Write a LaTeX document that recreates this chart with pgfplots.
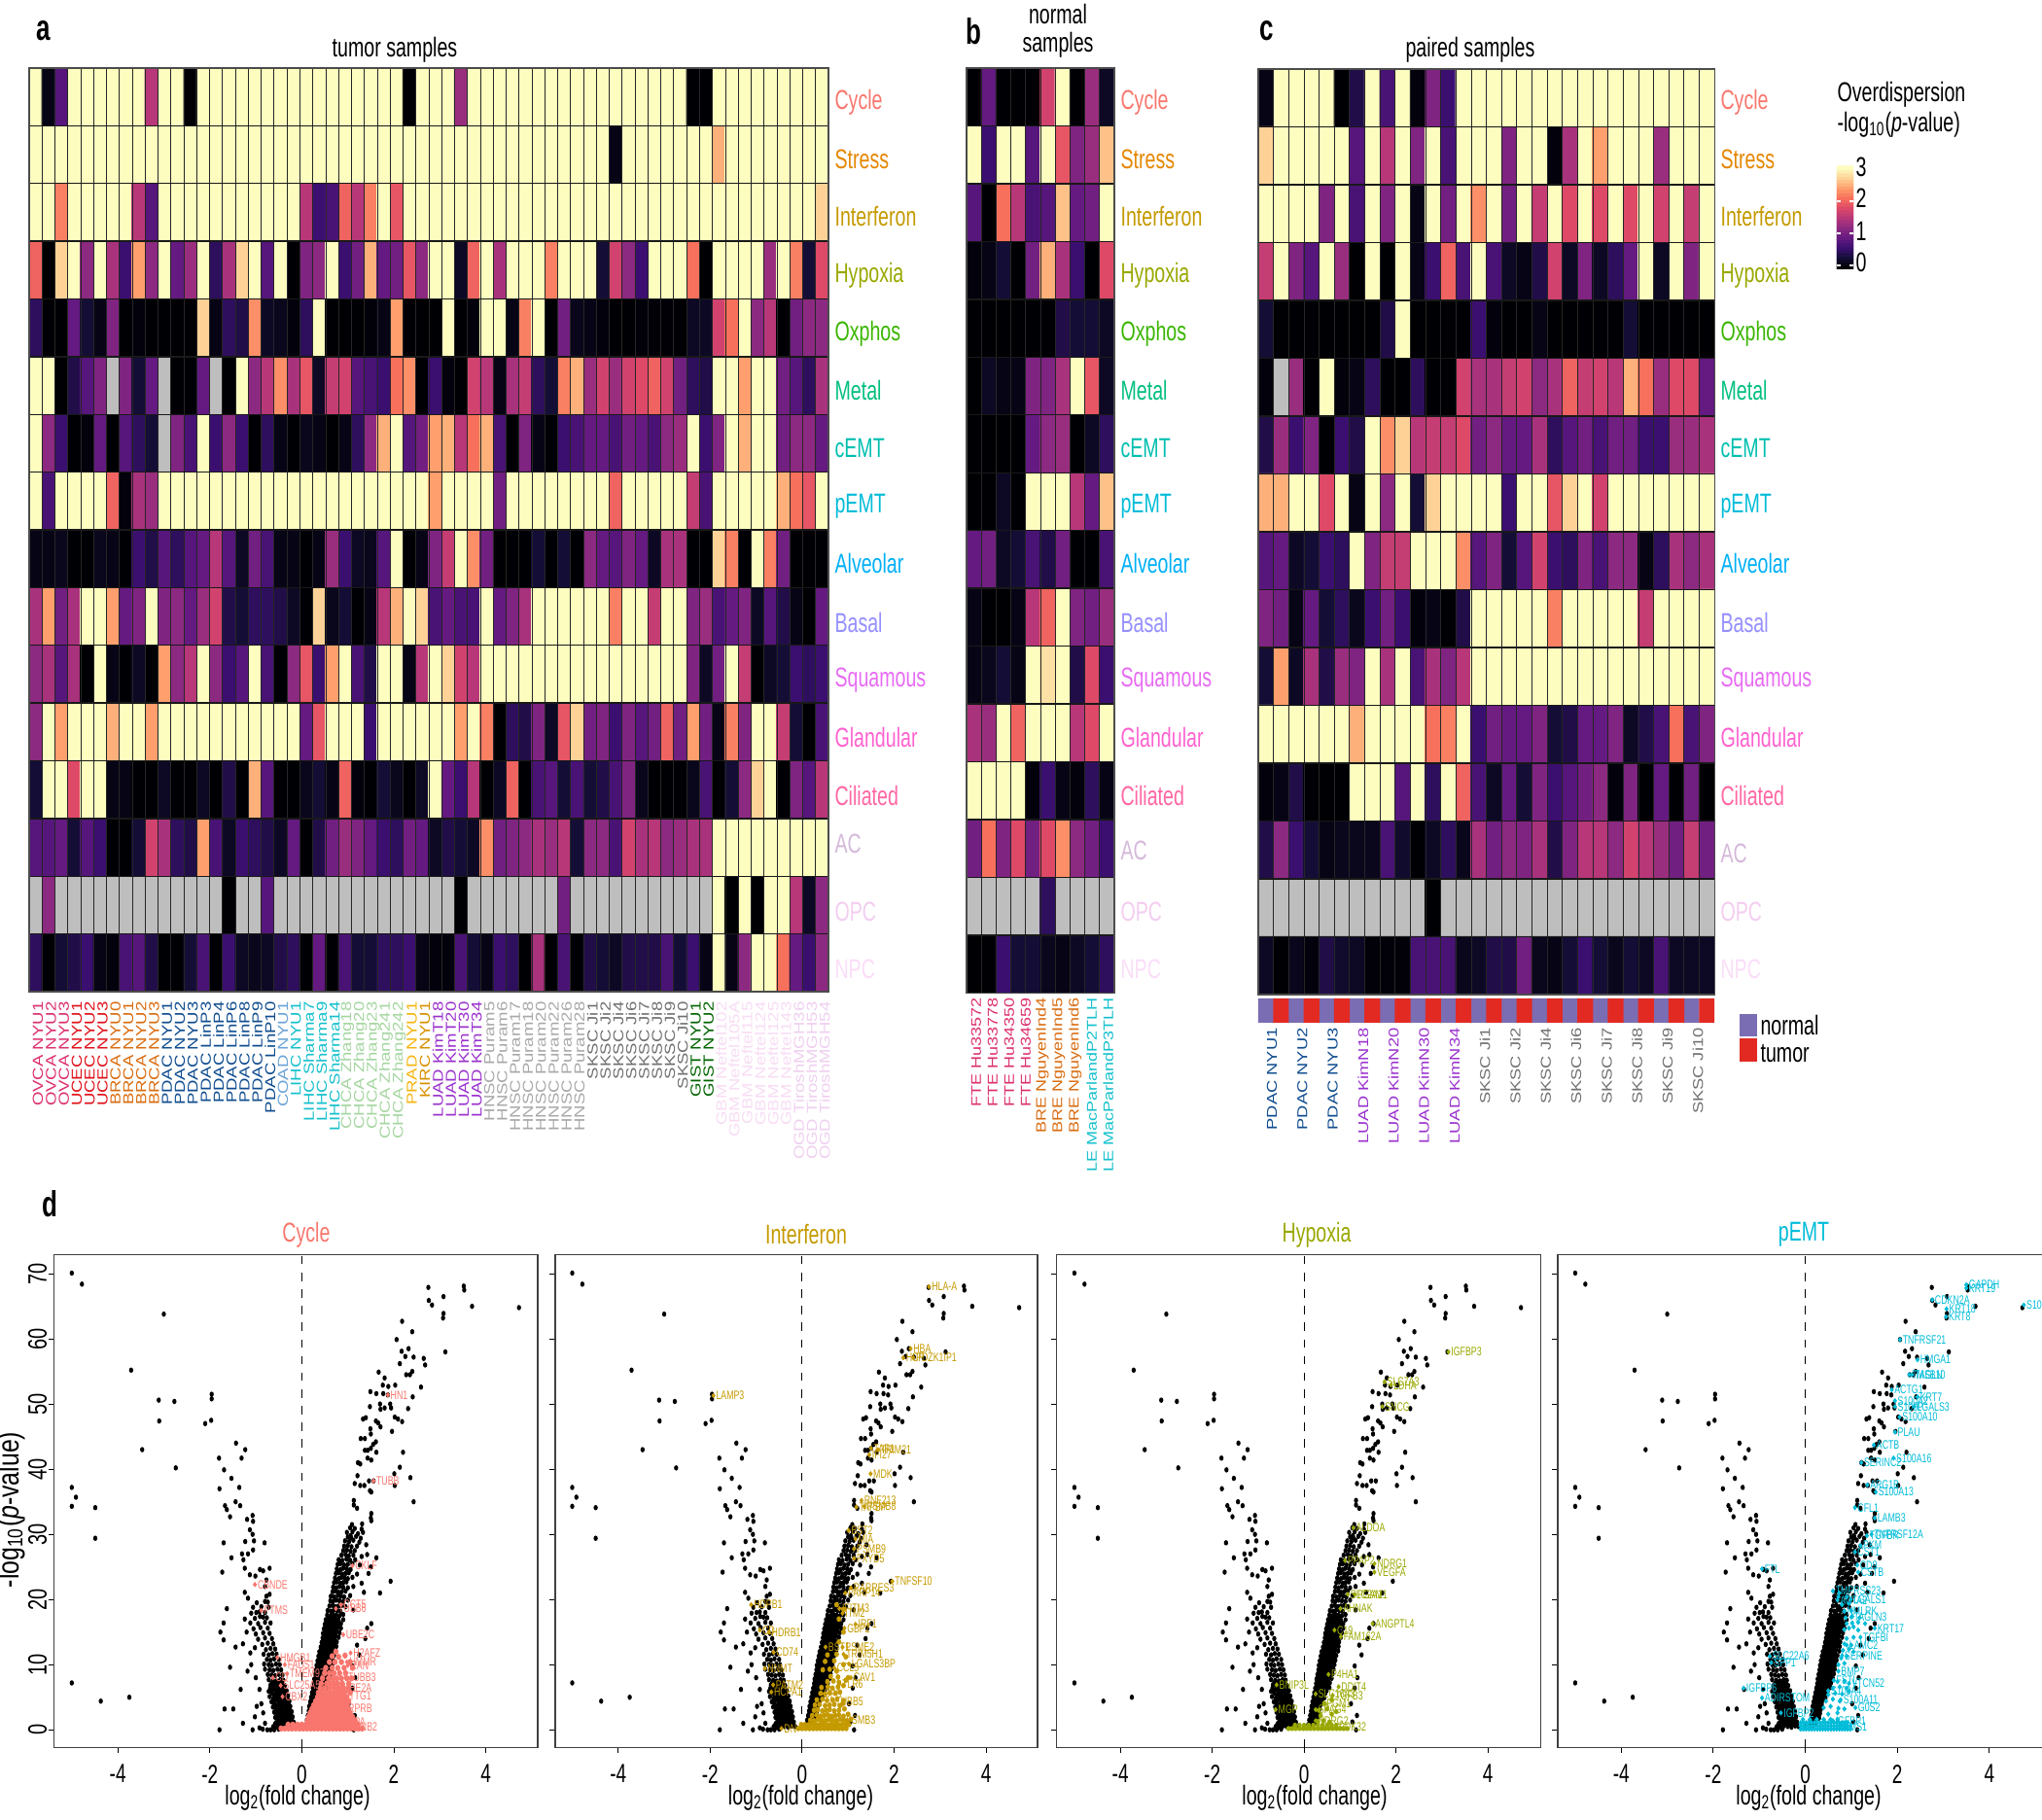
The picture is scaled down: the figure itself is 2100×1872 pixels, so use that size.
\documentclass[border=0pt]{standalone}
\usepackage{pgfplots}
\usepackage{pgfplotstable}
\usepackage{graphicx}
\usepackage{fontspec}
\pgfplotsset{compat=1.18}
\setmainfont{Liberation Sans}
\newcommand\fs[1]{\fontsize{#1}{#1}\selectfont}
\newcommand\hx[1]{\scalebox{.7}[1]{#1}}
\newcommand\vx[1]{\scalebox{1}[.8]{#1}}
\newcommand\vy[1]{\scalebox{1}[1.35]{#1}}
\definecolor{cCycle}{HTML}{F8766D}\definecolor{cStress}{HTML}{E58700}\definecolor{cInterferon}{HTML}{C49A00}
\definecolor{cHypoxia}{HTML}{99A800}\definecolor{cOxphos}{HTML}{39B600}\definecolor{cMetal}{HTML}{00BF7D}
\definecolor{ccEMT}{HTML}{00BFB0}\definecolor{cpEMT}{HTML}{00BCD8}\definecolor{cAlveolar}{HTML}{00B0F6}
\definecolor{cBasal}{HTML}{9590FF}\definecolor{cSquamous}{HTML}{E76BF3}\definecolor{cGlandular}{HTML}{FF62D0}
\definecolor{cCiliated}{HTML}{FF67A4}\definecolor{cAC}{HTML}{D4B9DA}\definecolor{cOPC}{HTML}{F3CDF0}\definecolor{cNPC}{HTML}{FBDDF8}
\definecolor{sOVCA}{HTML}{DB2F6E}\definecolor{sUCEC}{HTML}{E0101A}\definecolor{sBRCA}{HTML}{D96C10}\definecolor{sPDAC}{HTML}{0F4C8F}
\definecolor{sCOAD}{HTML}{6BA3D6}\definecolor{sLIHC}{HTML}{14C0CC}\definecolor{sCHCA}{HTML}{A5D6A0}\definecolor{sPRAD}{HTML}{F5B50F}
\definecolor{sKIRC}{HTML}{D89000}\definecolor{sLUAD}{HTML}{9A32CD}\definecolor{sHNSC}{HTML}{A8A8A8}\definecolor{sSKSC}{HTML}{707070}
\definecolor{sGIST}{HTML}{006400}\definecolor{sGBM}{HTML}{F8DCF4}\definecolor{sOGD}{HTML}{EFCFF0}
\definecolor{annN}{HTML}{7B6DB3}\definecolor{annT}{HTML}{E22A23}
\pgfplotsset{
  colormap={magNA}{
    rgb255(0pt)=(190,190,190) rgb255(49pt)=(190,190,190) rgb255(50pt)=(0,0,4)
    rgb255(80pt)=(20,14,54) rgb255(110pt)=(59,15,112) rgb255(140pt)=(100,26,128)
    rgb255(170pt)=(140,41,129) rgb255(200pt)=(183,55,121) rgb255(230pt)=(222,73,104)
    rgb255(260pt)=(247,112,92) rgb255(290pt)=(254,159,109) rgb255(320pt)=(254,210,150)
    rgb255(350pt)=(252,253,191)},
  hm/.style={scale only axis, xmin=-.5, ymin=-.5, ymax=15.5, y dir=reverse, anchor=north west,
    ytick={.5,1.5,...,14.5}, xticklabels={}, yticklabels={}, major tick length=0pt, axis on top,
    xmajorgrids, ymajorgrids, x grid style={black!85,line width=.28pt}, y grid style={black!90,line width=.5pt},
    point meta min=-.5, point meta max=3, axis line style={draw=black!70,line width=.4pt}, colormap name=magNA},
  vol/.style={scale only axis, anchor=north west, height=177.4pt, ymin=-2.73, ymax=72.9,
    xtick={-4,-2,0,2,4}, xticklabels={\hx{-4},\hx{-2},\hx{0},\hx{2},\hx{4}},
    xticklabel style={font=\fs{9.5},yshift=-.6pt}, ytick={0,10,...,70}, yticklabels={},
    tick align=outside, tick pos=left, major tick length=2pt, axis line style={draw=black!75,line width=.5pt},
    tick style={draw=black,line width=.35pt}},
  blk/.style={only marks, mark=*, mark size=.55pt, black, mark options={yscale=1.35,draw=none,fill=black}},
  gene/.style={only marks, mark=*, mark size=.5pt, color=#1, mark options={yscale=1.3,draw=none,fill=#1},
    point meta=explicit symbolic, nodes near coords={\hx{\pgfplotspointmeta}}, nodes near coords align={anchor=west},
    every node near coord/.append style={font=\fs{4.4}, text=#1, inner sep=.8pt}},
}
\pgfplotstableread[row sep=\\]{
x y\\
-5 70.1\\-4.78 68.4\\-3 63.8\\-3.71 55.2\\-3.11 50.6\\-2.77 50.4\\-1.96 51.5\\-1.96 50.8\\-3.1 47.4\\-1.97 47.5\\-2.1 47\\-3.47 43\\-1.43 44\\-1.23 43\\-1.8 41.7\\-1.31 41.7\\-2.74 40.2\\-1.69 39.9\\-1.53 38.6\\-5 37.2\\-1.79 37\\-1.36 37.2\\-4.91 35.7\\-5 34.3\\-4.49 34.1\\-4.49 29.4\\-5 7.2\\-3.75 5\\-4.37 4.4\\-1.68 3.2\\-1.49 3.2\\-1.79 0\\-1.28 1\\-1.07 0\\
-1.44 35\\-1.34 34.4\\-1.67 34.4\\-1.63 33.8\\-1.56 32.7\\-1.07 32.9\\-1.06 32\\-1.19 32.3\\-1.13 30.7\\-1.07 30\\-1.7 28.7\\-.81 28.7\\-1.23 28.9\\-1.04 29\\-1.3 27\\-1.53 26.4\\-1.17 27\\-1.27 26.1\\-1.06 27.6\\-.91 24.6\\-.7 24.8\\-1.73 24.2\\-1.24 24.8\\-1.13 23.8\\-1.01 23.6\\-.84 24.4\\-.77 23\\-.8 22\\-.7 20.8\\-.77 20.5\\-1.24 21.1\\-1.17 20.2\\-1.63 18.6\\-1.06 18.8\\-.99 18\\-1.7 16.4\\-1.77 15\\-1.7 13.8\\-1.44 12.7\\-1.56 9.6\\-1.33 6.2\\-1.24 17\\-.91 17.4\\-1.2 15\\-1.28 13.2\\-1.12 11.8\\-1.02 12.6\\-1.18 9\\-1.1 10\\-1 8\\-.92 6.2\\-.98 3.6\\-.88 4\\-.84 2.6\\-1.02 2\\-.92 .3\\-.8 1\\
2.75 67.9\\3.52 68.1\\3.53 67.5\\3.08 66.5\\2.76 65.9\\2.83 65.2\\3.7 65\\4.72 64.8\\3.08 63.9\\3.07 63.2\\2.18 62.7\\2.4 61.1\\2.06 59.9\\3.12 58\\2.32 58.5\\2.17 58.1\\2.25 57.3\\2.43 57.2\\2.65 57\\2.13 56.2\\2.68 56\\2.4 55\\2.27 54.5\\2.35 54.5\\1.67 54.9\\1.8 54\\2.59 52.6\\1.76 52.9\\1.88 52.7\\2.03 52.9\\2.41 51.1\\1.49 51.9\\1.62 51.6\\1.77 51.6\\1.87 51.4\\2.31 49.3\\1.48 49.6\\1.7 50\\1.71 49.2\\1.8 49.4\\1.92 50\\1.94 49.4\\1.33 47.7\\1.39 47.9\\1.61 47.4\\1.66 47.1\\2.02 48\\2.09 47.7\\2.18 47.3\\1.96 45.8\\1.49 46.2\\1.5 45.4\\1.71 46.5\\1.28 44.7\\1.37 44.7\\1.61 44.2\\1.5 43.2\\1.62 42.6\\1.55 43.8\\2.2 42.6\\1.43 42.9\\1.22 41\\1.27 40.8\\1.43 41.7\\1.51 41.4\\1.37 42.9\\2.01 39.3\\2.13 40.3\\2.36 38.7\\1.21 39\\1.46 38.2\\1.56 38.2\\1.15 37.8\\1.27 37.5\\1.36 37.5\\2.02 37.5\\1.48 36.7\\1.51 36.5\\2.43 35\\1.13 35.2\\1.13 34.5\\1.2 34\\1.51 33.2\\1.5 32.5\\1.51 32.1\\1.09 31.5\\1.31 31.6\\1.06 29.8\\1.93 22.8\\1.7 21\\1.45 24\\1.5 25\\1.62 26.4\\1.42 26.9\\1.51 16.3\\1.38 14\\1.42 15.6\\1.2 13\\1.25 11.5\\1.1 9.8\\1.16 8\\1.1 6.4\\1.02 4\\1.15 2.2\\1.13 0\\1.05 1.2\\
1.05 31\\1.15 30.9\\1.3 30.8\\.98 30.3\\1.1 30.4\\1.22 30.1\\1.33 30.3\\1 29.6\\1.07 29.5\\1.18 29.7\\1.28 29.4\\.94 29\\1.03 28.9\\1.12 29.1\\1.25 28.8\\.92 28.2\\1 28.3\\1.08 28.1\\1.2 28.2\\1.4 28.4\\.9 27.5\\.98 27.6\\1.06 27.4\\1.15 27.5\\.86 26.8\\.95 26.9\\1.02 26.7\\1.12 26.8\\1.3 26.6\\.8 26.1\\.88 26\\.97 26.2\\1.05 26\\1.16 26.1\\.78 25.4\\.84 25.5\\.92 25.3\\1 25.4\\1.1 25.5\\1.26 25.3\\.76 24.7\\.84 24.6\\.9 24.8\\.98 24.7\\1.06 24.6\\.74 24\\.8 24.1\\.88 23.9\\.95 24\\1.02 24.1\\1.2 23.9\\.72 23.3\\.8 23.2\\.86 23.4\\.93 23.3\\1 23.2\\1.1 23.4\\.7 22.6\\.76 22.7\\.84 22.5\\.9 22.6\\.97 22.7\\1.3 22.5\\.68 21.9\\.75 21.8\\.82 22\\.9 21.9\\1 21.8\\1.12 22\\.67 21.2\\.74 21.3\\.8 21.1\\.87 21.2\\.95 21.3\\1.35 21.1\\.63 20.5\\.7 20.4\\.78 20.6\\.85 20.5\\.92 20.4\\1.05 20.6\\.62 19.8\\.68 19.7\\.75 19.9\\.82 19.8\\.9 19.7\\1 19.9\\.6 19\\.67 19.1\\.74 18.9\\.8 19\\.87 19.1\\.95 18.9\\.56 18.3\\.63 18.2\\.7 18.4\\.77 18.3\\.84 18.2\\1.12 18.4\\.55 17.6\\.62 17.5\\.68 17.7\\.75 17.6\\.82 17.5\\.9 17.7\\.52 16.9\\.6 16.8\\.66 17\\.72 16.9\\.8 16.8\\.9 16.9\\.5 16.2\\.57 16.1\\.64 16.3\\.7 16.2\\.78 16.1\\.85 16.3\\.48 15.5\\.55 15.4\\.62 15.6\\.68 15.5\\.75 15.4\\.85 15.6\\.46 14.8\\.53 14.7\\.6 14.9\\.66 14.8\\.72 14.7\\.82 14.9\\.45 14.1\\.52 14\\.58 14.2\\.64 14.1\\.7 14\\.8 14.2\\.43 13.4\\.5 13.3\\.56 13.5\\.62 13.4\\.68 13.3\\.76 13.5\\.41 12.7\\.48 12.6\\.54 12.8\\.6 12.7\\.66 12.6\\.75 12.8\\.38 12\\.45 11.9\\.52 12.1\\.58 12\\.64 11.9\\.74 12.1\\.36 11.3\\.43 11.2\\.5 11.4\\.56 11.3\\.62 11.2\\.7 11.4\\.34 10.6\\.41 10.5\\.48 10.7\\.54 10.6\\.6 10.5\\.68 10.7\\.32 9.9\\.39 9.8\\.46 10\\.52 9.9\\.58 9.8\\.66 10\\.31 9.2\\.37 9.1\\.44 9.3\\.5 9.2\\.56 9.1\\.64 9.3\\.29 8.5\\.35 8.4\\.42 8.6\\.48 8.5\\.54 8.4\\.62 8.6\\.27 7.8\\.33 7.7\\.4 7.9\\.46 7.8\\.52 7.7\\.6 7.9\\.26 7.1\\.32 7\\.38 7.2\\.44 7.1\\.5 7\\.56 7.2\\.24 6.4\\.3 6.3\\.36 6.5\\.42 6.4\\.48 6.3\\.55 6.5\\.22 5.7\\.28 5.6\\.34 5.8\\.4 5.7\\.46 5.6\\.2 5\\.26 4.9\\.32 5.1\\.38 5\\.44 4.9\\.18 4.3\\.24 4.2\\.3 4.4\\.36 4.3\\.16 3.6\\.22 3.5\\.28 3.7\\.34 3.6\\.15 2.9\\.2 2.8\\.26 3\\.32 2.9\\.13 2.2\\.18 2.1\\.24 2.3\\.3 2.2\\.11 1.5\\.16 1.4\\.22 1.6\\.09 .8\\.14 .7\\
.58 17.2\\.65 17.2\\.71 17.2\\.78 17.2\\.54 16.5\\.61 16.5\\.68 16.5\\.75 16.5\\.51 15.8\\.58 15.8\\.65 15.8\\.72 15.8\\.79 15.8\\.5 15.1\\.56 15.1\\.63 15.1\\.7 15.1\\.77 15.1\\.48 14.4\\.55 14.4\\.61 14.4\\.67 14.4\\.74 14.4\\.47 13.7\\.53 13.7\\.59 13.7\\.65 13.7\\.72 13.7\\.45 13\\.51 13\\.57 13\\.63 13\\.7 13\\.42 12.3\\.49 12.3\\.55 12.3\\.61 12.3\\.68 12.3\\.4 11.6\\.47 11.6\\.53 11.6\\.59 11.6\\.66 11.6\\.38 10.9\\.44 10.9\\.51 10.9\\.57 10.9\\.64 10.9\\.36 10.2\\.42 10.2\\.49 10.2\\.55 10.2\\.62 10.2\\.34 9.5\\.4 9.5\\.47 9.5\\.53 9.5\\.6 9.5\\.32 8.8\\.38 8.8\\.45 8.8\\.51 8.8\\.58 8.8\\.3 8.1\\.36 8.1\\.43 8.1\\.49 8.1\\.56 8.1\\.29 7.4\\.35 7.4\\.41 7.4\\.47 7.4\\.53 7.4\\.27 6.7\\.33 6.7\\.39 6.7\\.45 6.7\\.51 6.7\\.25 6\\.31 6\\.37 6\\.43 6\\.49 6\\.23 5.3\\.29 5.3\\.35 5.3\\.41 5.3\\.21 4.6\\.27 4.6\\.33 4.6\\.39 4.6\\.19 3.9\\.25 3.9\\.31 3.9\\.36 3.9\\.18 3.2\\.23 3.2\\.29 3.2\\.34 3.2\\.16 2.5\\.21 2.5\\.27 2.5\\.32 2.5\\.14 1.8\\.19 1.8\\.25 1.8\\.3 1.8\\.12 1.1\\.18 1.1\\.24 1.1\\
-.15 .5\\-.22 .6\\-.3 .4\\-.38 .5\\-.46 .6\\-.55 .4\\-.62 .5\\-.18 1.2\\-.25 1.3\\-.32 1.1\\-.4 1.2\\-.48 1.3\\-.56 1.1\\-.2 2\\-.27 2.1\\-.34 1.9\\-.42 2\\-.5 2.1\\-.58 1.9\\-.22 2.8\\-.3 2.9\\-.37 2.7\\-.44 2.8\\-.52 2.9\\-.6 2.7\\-.25 3.6\\-.32 3.7\\-.4 3.5\\-.47 3.6\\-.55 3.7\\-.63 3.5\\-.27 4.4\\-.34 4.5\\-.42 4.3\\-.5 4.4\\-.58 4.5\\-.66 4.3\\-.3 5.2\\-.38 5.3\\-.45 5.1\\-.53 5.2\\-.6 5.3\\-.7 5.1\\-.33 6\\-.4 6.1\\-.48 5.9\\-.56 6\\-.64 6.1\\-.72 5.9\\-.37 6.8\\-.44 6.9\\-.52 6.7\\-.6 6.8\\-.68 6.9\\-.4 7.6\\-.47 7.7\\-.55 7.5\\-.63 7.6\\-.72 7.7\\-.42 8.4\\-.5 8.5\\-.58 8.3\\-.66 8.4\\-.74 8.5\\-.45 9.2\\-.53 9.3\\-.62 9.1\\-.7 9.2\\-.8 9.3\\-.48 10\\-.56 10.1\\-.65 9.9\\-.72 10\\-.82 10.1\\-.5 10.8\\-.6 10.9\\-.68 10.7\\-.76 10.8\\-.55 11.6\\-.64 11.7\\-.72 11.5\\-.83 11.6\\-.58 12.4\\-.68 12.5\\-.78 12.3\\-.62 13.2\\-.74 13.3\\-.86 13.1\\-.65 14\\-.8 14.1\\-.95 13.9\\-.7 14.8\\-.84 14.9\\-1 14.7\\-.74 15.6\\-.9 15.7\\-1.05 15.5\\-.68 16.4\\-.8 16.5\\-.95 16.3\\-1.12 16.4\\-.76 17.2\\-.84 17.3\\-1.02 17.1\\-.8 18\\-.92 18.1\\-1.1 17.9\\-.72 18.8\\-.88 18.9\\-.74 19.6\\-.8 19.7\\-.98 19.5\\
-.42 7.2\\-.49 7.2\\-.57 7.2\\-.65 7.2\\-.39 6.4\\-.46 6.4\\-.53 6.4\\-.61 6.4\\-.69 6.4\\-.36 5.6\\-.42 5.6\\-.5 5.6\\-.57 5.6\\-.65 5.6\\-.32 4.8\\-.39 4.8\\-.46 4.8\\-.54 4.8\\-.62 4.8\\-.29 4\\-.36 4\\-.44 4\\-.51 4\\-.6 4\\-.27 3.2\\-.34 3.2\\-.42 3.2\\-.49 3.2\\-.57 3.2\\-.24 2.4\\-.31 2.4\\-.38 2.4\\-.46 2.4\\-.54 2.4\\-.22 1.6\\-.29 1.6\\-.36 1.6\\-.44 1.6\\-.52 1.6\\-.19 .9\\-.27 .9\\-.34 .9\\-.43 .9\\-.5 .9\\-.58 .9\\
-.6 0\\-.68 0\\-.75 0\\-.5 .1\\-.85 .1\\
}\volctab
\begin{document}
\begin{tikzpicture}[x=.35pt,y=-.35pt]
% ---------- panel a
\begin{axis}[hm, at={(10.5pt,-24.5pt)}, width=287.7pt, height=332.5pt, xmax=61.5, xtick={.5,1.5,...,60.5}]
\addplot[matrix plot*, mesh/cols=62, point meta=explicit] table[row sep=\\, header=false, x expr={mod(\coordindex,62)}, y expr={floor((\coordindex+.5)/62)}, meta index=0] {
3\\.1\\.8\\3\\3\\3\\3\\3\\3\\1.5\\3\\3\\0\\3\\3\\3\\3\\3\\3\\3\\3\\3\\3\\3\\3\\3\\3\\3\\3\\0\\3\\3\\3\\1.3\\3\\3\\3\\3\\3\\3\\3\\3\\3\\3\\3\\3\\3\\3\\3\\3\\3\\0\\0\\3\\3\\3\\3\\3\\3\\3\\3\\3\\
3\\3\\3\\3\\3\\3\\3\\3\\3\\3\\3\\3\\3\\3\\3\\3\\3\\3\\3\\3\\3\\3\\3\\3\\3\\3\\3\\3\\3\\3\\3\\3\\3\\3\\3\\3\\3\\3\\3\\3\\3\\3\\3\\3\\3\\.1\\3\\3\\3\\3\\3\\3\\3\\2.5\\3\\3\\3\\3\\3\\3\\3\\3\\
3\\3\\2.2\\3\\3\\3\\3\\3\\1.5\\.8\\3\\3\\3\\3\\3\\3\\3\\3\\3\\3\\3\\1.5\\.6\\.7\\2\\1.5\\2.2\\3\\1.9\\3\\3\\3\\3\\3\\3\\3\\3\\3\\3\\3\\3\\3\\3\\3\\3\\3\\3\\3\\3\\3\\3\\3\\3\\3\\3\\3\\3\\3\\3\\3\\3\\2.7\\
2\\0\\2.7\\3\\1.2\\3\\1.4\\.6\\2.4\\1.2\\3\\.9\\1.3\\3\\.5\\1.4\\2.7\\3\\.8\\3\\0\\1.1\\1.2\\3\\.6\\1\\2.5\\.9\\1\\1.9\\1.2\\3\\3\\.2\\2\\3\\1.4\\3\\3\\3\\2.2\\3\\3\\3\\.3\\1.7\\1.2\\.6\\3\\3\\3\\2.1\\0\\3\\3\\3\\3\\1.3\\3\\2.2\\.3\\1.8\\
.5\\0\\0\\.9\\.3\\.1\\1.1\\0\\.05\\0\\0\\0\\0\\2.7\\.1\\.5\\.4\\2.3\\.2\\.15\\.05\\.5\\3\\0\\0\\0\\.03\\.1\\2.4\\0\\0\\0\\3\\0\\.05\\3\\3\\.1\\2.2\\3\\0\\1\\.15\\.1\\.05\\0\\0\\.03\\.02\\.01\\0\\.2\\.2\\1.7\\2.1\\3\\1.2\\1.5\\0\\1\\1.2\\1.2\\
3\\3\\0\\.4\\.8\\1.1\\-.5\\1.1\\.3\\.9\\-.5\\0\\0\\.9\\-.5\\0\\3\\1.2\\1.5\\2.3\\1.4\\1.9\\.2\\1.6\\1.7\\.8\\.7\\.6\\2.1\\2.3\\0\\.6\\.05\\0\\1.7\\1.5\\.1\\1.4\\1.6\\.5\\.3\\2.2\\2.5\\1.3\\1.7\\1.3\\1.7\\1.8\\2\\1.7\\1\\.5\\.4\\3\\3\\2.4\\3\\3\\1\\.8\\.5\\1.4\\
3\\1.2\\.6\\0\\.05\\.9\\0\\.8\\.5\\.3\\-.5\\1.1\\.7\\3\\.6\\1.2\\.6\\0\\.5\\.1\\0\\.15\\.1\\0\\.1\\.5\\1.2\\2.5\\3\\.8\\1\\2.4\\2.5\\1.5\\2.1\\2.5\\.7\\0\\1.1\\.1\\0\\.6\\.7\\.9\\.9\\.7\\1\\.9\\.7\\1.2\\1.3\\3\\.6\\1.1\\3\\2.5\\3\\3\\1\\1.2\\1.2\\.9\\
3\\.7\\3\\3\\3\\3\\2\\.05\\1.4\\1.3\\3\\3\\3\\3\\3\\3\\3\\3\\3\\3\\3\\3\\3\\3\\3\\3\\3\\3\\3\\3\\3\\2.4\\3\\3\\3\\3\\1\\3\\3\\3\\3\\3\\3\\3\\3\\2\\3\\3\\3\\3\\3\\1.6\\.7\\3\\3\\3\\3\\3\\2.5\\2.1\\1.9\\3\\
.1\\.1\\.15\\0\\0\\.15\\.1\\0\\.6\\.4\\.8\\.5\\.8\\.9\\1.5\\.8\\.2\\1\\.7\\.1\\.1\\0\\.1\\1.3\\.6\\.2\\.15\\.8\\3\\0\\.1\\1.1\\1.6\\3\\2.3\\1\\0\\0\\0\\.3\\0\\.3\\0\\1.2\\.9\\.8\\1.1\\.9\\.2\\1.4\\1.4\\0\\0\\2.7\\2.2\\0\\3\\2.2\\1\\0\\0\\0\\
1.4\\2.4\\1\\1.4\\3\\3\\2.4\\.9\\1.1\\3\\1.1\\1.2\\.9\\1.3\\1.7\\.4\\.3\\.5\\.5\\.4\\.2\\0\\2.7\\.15\\.3\\0\\.1\\1.5\\2.5\\3\\2.7\\.7\\.9\\.7\\.7\\3\\.9\\1.1\\1.4\\3\\3\\3\\3\\3\\3\\2.2\\3\\3\\1.6\\3\\3\\1.1\\1.3\\.7\\.9\\1.1\\.2\\.8\\.4\\.1\\0\\.9\\
1.2\\1.4\\.8\\1.4\\0\\3\\.1\\0\\.2\\0\\2.4\\1.2\\1.5\\3\\1.2\\.6\\.8\\3\\.7\\0\\1.2\\1.9\\.6\\2.4\\3\\.7\\.4\\3\\3\\.1\\1.5\\3\\2.7\\1.7\\1.5\\3\\3\\3\\3\\3\\3\\3\\3\\3\\3\\3\\3\\3\\3\\3\\3\\1.1\\.2\\1\\3\\1.6\\0\\.2\\.3\\.6\\.5\\.6\\
1.2\\3\\2.4\\3\\3\\3\\2.5\\3\\3\\2.4\\3\\3\\3\\3\\3\\3\\3\\3\\3\\3\\3\\.9\\1.9\\3\\3\\3\\.6\\3\\3\\3\\3\\3\\3\\2.4\\3\\2.2\\0\\.5\\.4\\1.1\\.2\\1.9\\2.7\\1\\1.1\\.6\\1.1\\.8\\1\\2\\1\\2.4\\1\\.1\\2.2\\1.1\\3\\3\\1.6\\.3\\0\\.7\\
.3\\3\\3\\1.8\\3\\3\\.1\\.1\\0\\0\\.2\\0\\0\\.2\\0\\.4\\0\\2.5\\.8\\0\\0\\.15\\.3\\.1\\2\\.05\\0\\.3\\.15\\0\\.2\\3\\.9\\.6\\1.5\\0\\.2\\2\\0\\.7\\.8\\.3\\.7\\.3\\.4\\.7\\1.1\\.15\\0\\0\\0\\.15\\.7\\0\\.3\\1.2\\2.7\\3\\0\\1.1\\.8\\1.5\\
.8\\.8\\.9\\.3\\.8\\.6\\0\\0\\.3\\1.7\\1.4\\.5\\.4\\2.4\\.7\\.2\\.6\\.5\\.4\\.2\\.9\\0\\.4\\1\\1.3\\1.1\\.9\\.6\\.5\\1\\.9\\.2\\.4\\.3\\.2\\2.3\\1\\1.1\\1.2\\1.4\\1.3\\1.5\\.3\\1.2\\1.2\\.7\\1.7\\1.4\\1.5\\1.2\\1.3\\1.4\\1.4\\3\\3\\3\\3\\3\\3\\3\\3\\3\\
-.5\\1.2\\-.5\\-.5\\-.5\\-.5\\-.5\\-.5\\-.5\\-.5\\-.5\\-.5\\-.5\\-.5\\-.5\\0\\-.5\\-.5\\.8\\-.5\\-.5\\-.5\\-.5\\-.5\\-.5\\-.5\\-.5\\-.5\\-.5\\-.5\\-.5\\-.5\\-.5\\0\\-.5\\-.5\\-.5\\-.5\\-.5\\-.5\\-.5\\1\\-.5\\-.5\\-.5\\-.5\\-.5\\-.5\\-.5\\-.5\\-.5\\-.5\\-.5\\3\\0\\3\\0\\3\\3\\1.5\\.2\\1.2\\
.5\\0\\.3\\.4\\.6\\.1\\.05\\.7\\.8\\.4\\0\\0\\.3\\.7\\0\\.6\\.2\\.15\\.2\\.4\\.5\\0\\.9\\0\\.7\\.3\\.3\\.5\\.5\\.6\\.1\\.05\\.05\\.7\\.3\\.1\\.6\\.5\\0\\1.4\\0\\.7\\0\\.4\\.3\\.2\\.4\\.4\\.4\\.7\\.3\\.6\\.1\\3\\.1\\1.2\\3\\3\\2.1\\.9\\.6\\1.2\\
};
\end{axis}
% ---------- panel b
\begin{axis}[hm, at={(347.9pt,-24.5pt)}, width=53.2pt, height=333pt, xmax=9.5, xtick={.5,1.5,...,8.5}]
\addplot[matrix plot*, mesh/cols=10, point meta=explicit] table[row sep=\\, header=false, x expr={mod(\coordindex,10)}, y expr={floor((\coordindex+.5)/10)}, meta index=0] {
0\\.9\\0\\0\\0\\1.7\\3\\0\\1.3\\.2\\
3\\.6\\3\\3\\.8\\3\\1.9\\1.1\\1.3\\2.6\\
.8\\0\\2.1\\1.5\\.7\\.8\\2.6\\.9\\1\\3\\
.05\\.1\\.3\\0\\1\\2.5\\1.4\\.6\\0\\1.8\\
0\\0\\0\\0\\0\\0\\.4\\.3\\.3\\.2\\
0\\.2\\.1\\.1\\1.1\\1.1\\1.4\\3\\1.9\\.2\\
0\\0\\0\\0\\.9\\1.2\\1.3\\0\\.2\\.5\\
0\\0\\.2\\0\\3\\3\\3\\1.5\\.9\\2.6\\
.9\\1\\.2\\.3\\.7\\.4\\1\\0\\0\\.7\\
.1\\0\\0\\.1\\1.5\\2\\3\\1.1\\1\\1.3\\
.1\\.15\\.3\\.1\\3\\2.8\\3\\.4\\1.8\\.6\\
1.4\\1.3\\3\\2\\3\\3\\3\\1.5\\1.8\\3\\
3\\3\\3\\3\\.05\\.6\\.1\\.05\\.5\\.1\\
1\\2.1\\1.1\\1.8\\1\\1.8\\2.3\\1.2\\1\\.6\\
-.5\\-.5\\-.5\\-.5\\-.5\\.5\\-.5\\-.5\\-.5\\-.5\\
0\\0\\.6\\.3\\.3\\.15\\.1\\.2\\.3\\.5\\
};
\end{axis}
% ---------- panel c
\begin{axis}[hm, at={(452.9pt,-24.85pt)}, width=164.2pt, height=333.2pt, xmax=29.5, xtick={.5,1.5,...,28.5}]
\addplot[matrix plot*, mesh/cols=30, point meta=explicit] table[row sep=\\, header=false, x expr={mod(\coordindex,30)}, y expr={floor((\coordindex+.5)/30)}, meta index=0] {
.1\\3\\3\\3\\3\\0\\.4\\3\\.7\\3\\.05\\1.1\\.6\\3\\3\\3\\3\\3\\3\\3\\3\\3\\3\\3\\3\\3\\3\\3\\3\\3\\
2.7\\3\\3\\3\\3\\3\\.8\\3\\1.5\\3\\1.1\\3\\.7\\3\\3\\3\\1.1\\3\\3\\.05\\1.4\\3\\2.4\\3\\3\\3\\1.3\\3\\3\\3\\
3\\3\\3\\3\\1.1\\3\\.7\\3\\1.1\\3\\.1\\3\\1\\3\\2.3\\3\\1\\3\\1.6\\3\\1.8\\3\\1.8\\3\\1.8\\3\\1.7\\3\\1.6\\3\\
1.6\\3\\1.1\\.8\\3\\1.3\\0\\3\\0\\3\\.1\\.6\\2\\.7\\3\\.7\\.2\\.1\\.4\\1.7\\.2\\1.1\\.2\\.5\\.9\\3\\.2\\3\\1.1\\3\\
.3\\0\\0\\0\\0\\0\\0\\0\\.4\\3\\0\\0\\0\\0\\.6\\.05\\0\\0\\.1\\0\\0\\0\\0\\0\\.3\\0\\0\\0\\0\\0\\
.05\\-.5\\1.3\\0\\3\\.05\\.1\\.5\\0\\0\\.5\\0\\0\\1.7\\1.4\\1.4\\1.6\\1.7\\1.2\\1.4\\2\\1.6\\1.7\\1.5\\2.5\\2.1\\1.3\\1.8\\1.8\\.9\\
.4\\1.3\\.6\\1.1\\0\\.6\\.4\\3\\2.3\\2.7\\1.5\\1.6\\1.6\\1.8\\1\\1.2\\.9\\.9\\1.4\\.5\\.8\\1\\.7\\1\\1\\.6\\.6\\1.3\\1.3\\1.4\\
2.5\\2.5\\3\\3\\1.8\\3\\.1\\3\\1.2\\3\\.3\\2.7\\3\\3\\3\\3\\.6\\3\\3\\1.9\\2.7\\3\\1.7\\3\\3\\3\\3\\3\\3\\3\\
.8\\.9\\.2\\.3\\.6\\.5\\3\\1.1\\1.6\\1.6\\3\\3\\3\\2.3\\.8\\1.1\\.3\\.8\\1.7\\.6\\.5\\1.1\\.7\\1.2\\1.2\\.1\\.5\\1.4\\1.2\\1.4\\
1.1\\1\\.1\\.9\\.3\\.5\\.15\\.6\\1\\.6\\.05\\.1\\0\\.4\\3\\3\\3\\3\\3\\2.2\\3\\3\\3\\3\\3\\1.6\\3\\3\\3\\3\\
.3\\2.4\\.2\\1.4\\.4\\1.3\\1.1\\3\\1.4\\3\\.7\\1.4\\1.1\\1.5\\3\\3\\3\\3\\3\\3\\3\\3\\3\\3\\3\\3\\3\\3\\3\\3\\
3\\3\\3\\3\\3\\3\\2.5\\3\\3\\3\\3\\2.1\\2.2\\3\\.6\\1\\.9\\.9\\1.1\\.3\\.4\\.9\\.9\\1.1\\.2\\.4\\.7\\2.1\\.7\\1.1\\
.05\\.1\\.4\\0\\0\\0\\3\\3\\3\\.8\\3\\.5\\3\\2\\.7\\.2\\.9\\.3\\1.1\\.6\\.8\\1\\1.2\\.05\\1.1\\0\\.9\\0\\1\\0\\
.4\\1.2\\.6\\.3\\.1\\.15\\.15\\.15\\.7\\.25\\0\\.2\\.5\\.15\\1.4\\1\\1.2\\1.1\\1.4\\.4\\1.1\\1.5\\1.5\\1.2\\1.7\\1.5\\1.3\\1\\1.6\\1\\
-.5\\-.5\\-.5\\-.5\\-.5\\-.5\\-.5\\-.5\\-.5\\-.5\\-.5\\0\\-.5\\-.5\\-.5\\-.5\\-.5\\-.5\\-.5\\-.5\\-.5\\-.5\\-.5\\-.5\\-.5\\-.5\\-.5\\-.5\\-.5\\-.5\\
.2\\0\\.15\\.05\\.4\\.25\\.2\\.03\\.03\\.03\\.7\\.7\\.7\\.15\\.2\\.4\\.4\\1\\.15\\.1\\.3\\.6\\.3\\.15\\.3\\.2\\.7\\.2\\.2\\.2\\
};
\end{axis}
% ---------- paired annotation bar
\begin{axis}[scale only axis, at={(452.9pt,-359.45pt)}, anchor=north west, width=164.2pt, height=8.75pt, xmin=-.5, xmax=29.5, ymin=0, ymax=1, hide axis]
\addplot[ybar, bar width=1.03, bar shift=0pt, fill=annN, draw=none] coordinates {(0,1)(2,1)(4,1)(6,1)(8,1)(10,1)(12,1)(14,1)(16,1)(18,1)(20,1)(22,1)(24,1)(26,1)(28,1)};
\addplot[ybar, bar width=1.03, bar shift=0pt, fill=annT, draw=none] coordinates {(1,1)(3,1)(5,1)(7,1)(9,1)(11,1)(13,1)(15,1)(17,1)(19,1)(21,1)(23,1)(25,1)(27,1)(29,1)};
\end{axis}
% ---------- colour key
\begin{axis}[scale only axis, at={(661.15pt,-59.85pt)}, anchor=north west, width=6pt, height=37.1pt, xmin=-.5, xmax=1.5, ymin=-.05, ymax=3.05, hide axis, point meta min=-.5, point meta max=3, colormap name=magNA]
\addplot[matrix plot*, mesh/cols=2, point meta=explicit] table[row sep=\\, header=false, x expr={mod(\coordindex,2)}, y expr={floor((\coordindex+.5)/2)/10}, meta index=0] {
0\\0\\.1\\.1\\.2\\.2\\.3\\.3\\.4\\.4\\.5\\.5\\.6\\.6\\.7\\.7\\.8\\.8\\.9\\.9\\1\\1\\1.1\\1.1\\1.2\\1.2\\1.3\\1.3\\1.4\\1.4\\1.5\\1.5\\1.6\\1.6\\1.7\\1.7\\1.8\\1.8\\1.9\\1.9\\2\\2\\2.1\\2.1\\2.2\\2.2\\2.3\\2.3\\2.4\\2.4\\2.5\\2.5\\2.6\\2.6\\2.7\\2.7\\2.8\\2.8\\2.9\\2.9\\3\\3\\
};
\end{axis}
\foreach \y in {207,240,273}{\draw[white,line width=.4pt] (1889,\y)--(1893,\y) (1902,\y)--(1906,\y);}
\foreach \l/\y in {3/172,2/204,1/238,0/270}{\node[anchor=west,inner sep=0,font=\fs{9.8}] at (1908,\y) {\hx{\l}};}
\node[anchor=west,inner sep=0,font=\fs{9.8}] at (1889,97) {\hx{Overdispersion}};
\node[anchor=west,inner sep=0,font=\fs{9.8}] at (1889,128) {\hx{-log$_{\mathrm{10}}$(\textit{p}-value)}};
\fill[annN] (1789,1043) rectangle (1807,1066);
\fill[annT] (1789,1068) rectangle (1807,1092);
\node[anchor=west,inner sep=0,font=\fs{9.8}] at (1810,1054) {\hx{normal}};
\node[anchor=west,inner sep=0,font=\fs{9.8}] at (1810,1084) {\hx{tumor}};
% ---------- titles
\node[font=\fs{9.8}] at (406,51) {\hx{tumor samples}};
\node[font=\fs{9.8}] at (1088,15) {\hx{normal}};
\node[font=\fs{9.8}] at (1088,46) {\hx{samples}};
\node[font=\fs{9.8}] at (1512,51) {\hx{paired samples}};
\foreach \l/\x/\y in {a/45/32,b/1001/32,c/1303/32,d/51/1238}{\node[font=\fs{13}\bfseries] at (\x,\y) {\scalebox{.7}[1]{\l}};}
% ---------- row labels
\foreach \n/\c/\y in {Cycle/cCycle/105,Stress/cStress/164,Interferon/cInterferon/223,Hypoxia/cHypoxia/283,Oxphos/cOxphos/343,Metal/cMetal/402,cEMT/ccEMT/461,pEMT/cpEMT/521,Alveolar/cAlveolar/580,Basal/cBasal/640,Squamous/cSquamous/700,Glandular/cGlandular/758,Ciliated/cCiliated/818,OPC/cOPC/938,NPC/cNPC/997}{
  \node[anchor=west,inner sep=0,font=\fs{9.8},text=\c] at (858,\y) {\hx{\n}};
  \node[anchor=west,inner sep=0,font=\fs{9.8},text=\c] at (1152,\y) {\hx{\n}};
  \node[anchor=west,inner sep=0,font=\fs{9.8},text=\c] at (1769,\y) {\hx{\n}};
}
\node[anchor=west,inner sep=0,font=\fs{9.8},text=cAC] at (858,868) {\hx{AC}};
\node[anchor=west,inner sep=0,font=\fs{9.8},text=cAC] at (1152,875) {\hx{AC}};
\node[anchor=west,inner sep=0,font=\fs{9.8},text=cAC] at (1769,878) {\hx{AC}};
% ---------- sample labels
\foreach \n/\c [count=\i from 0] in {OVCA NYU1/sOVCA,OVCA NYU2/sOVCA,OVCA NYU3/sOVCA,UCEC NYU1/sUCEC,UCEC NYU2/sUCEC,UCEC NYU3/sUCEC,BRCA NYU0/sBRCA,BRCA NYU1/sBRCA,BRCA NYU2/sBRCA,BRCA NYU3/sBRCA,PDAC NYU1/sPDAC,PDAC NYU2/sPDAC,PDAC NYU3/sPDAC,PDAC LinP3/sPDAC,PDAC LinP4/sPDAC,PDAC LinP6/sPDAC,PDAC LinP8/sPDAC,PDAC LinP9/sPDAC,PDAC LinP10/sPDAC,COAD NYU1/sCOAD,LIHC NYU1/sLIHC,LIHC Sharma7/sLIHC,LIHC Sharma9/sLIHC,LIHC Sharma14/sLIHC,CHCA Zhang18/sCHCA,CHCA Zhang20/sCHCA,CHCA Zhang23/sCHCA,CHCA Zhang241/sCHCA,CHCA Zhang242/sCHCA,PRAD NYU1/sPRAD,KIRC NYU1/sKIRC,LUAD KimT18/sLUAD,LUAD KimT20/sLUAD,LUAD KimT30/sLUAD,LUAD KimT34/sLUAD,HNSC Puram5/sHNSC,HNSC Puram6/sHNSC,HNSC Puram17/sHNSC,HNSC Puram18/sHNSC,HNSC Puram20/sHNSC,HNSC Puram22/sHNSC,HNSC Puram26/sHNSC,HNSC Puram28/sHNSC,SKSC Ji1/sSKSC,SKSC Ji2/sSKSC,SKSC Ji4/sSKSC,SKSC Ji6/sSKSC,SKSC Ji7/sSKSC,SKSC Ji8/sSKSC,SKSC Ji9/sSKSC,SKSC Ji10/sSKSC,GIST NYU1/sGIST,GIST NYU2/sGIST,GBM Neftel102/sGBM,GBM Neftel105A/sGBM,GBM Neftel115/sGBM,GBM Neftel124/sGBM,GBM Neftel125/sGBM,GBM Neftel143/sGBM,OGD TiroshMGH36/sOGD,OGD TiroshMGH53/sOGD,OGD TiroshMGH54/sOGD}{
  \pgfmathsetmacro\xx{32.5+13.26*(\i+.5)}
  \node[rotate=90,anchor=east,inner sep=0,font=\fs{6.5},text=\c] at (\xx,1030) {\vx{\n}};
}
\foreach \n/\c [count=\i from 0] in {FTE Hu33572/sOVCA,FTE Hu33778/sOVCA,FTE Hu34350/sOVCA,FTE Hu34659/sOVCA,BRE NguyenInd4/sBRCA,BRE NguyenInd5/sBRCA,BRE NguyenInd6/sBRCA,LE MacParlandP2TLH/sLIHC,LE MacParlandP3TLH/sLIHC}{
  \pgfmathsetmacro\xx{1004+16.95*\i}
  \node[rotate=90,anchor=east,inner sep=0,font=\fs{6.3},text=\c] at (\xx,1026) {\vx{\n}};
}
\foreach \n/\c [count=\i from 0] in {PDAC NYU1/sPDAC,PDAC NYU2/sPDAC,PDAC NYU3/sPDAC,LUAD KimN18/sLUAD,LUAD KimN20/sLUAD,LUAD KimN30/sLUAD,LUAD KimN34/sLUAD,SKSC Ji1/sSKSC,SKSC Ji2/sSKSC,SKSC Ji4/sSKSC,SKSC Ji6/sSKSC,SKSC Ji7/sSKSC,SKSC Ji8/sSKSC,SKSC Ji9/sSKSC,SKSC Ji10/sSKSC}{
  \pgfmathsetmacro\xx{1308+31.3*\i}
  \node[rotate=90,anchor=east,inner sep=0,font=\fs{6.4},text=\c] at (\xx,1057) {\vx{\n}};
}
% ---------- volcano 1: Cycle
\begin{axis}[vol, at={(19.39pt,-451.75pt)}, width=174.2pt, xmin=-5.39, xmax=5.13,
  yticklabels={\vy{0},\vy{10},\vy{20},\vy{30},\vy{40},\vy{50},\vy{60},\vy{70}}, yticklabel style={rotate=90, anchor=south, font=\fs{7}}, yticklabel shift=-3pt]
\addplot[black,dashed,line width=.3pt] coordinates {(0,-2.73)(0,72.9)};
\addplot[blk] table[x=x,y=y] {\volctab};
\addplot[only marks, mark=*, mark size=.75pt, color=cCycle, mark options={yscale=1.2,draw=none,fill=cCycle}] table[row sep=\\] {
x y\\
-.45 .2\\-.37 .2\\-.29 .2\\-.21 .2\\-.13 .2\\-.05 .2\\.03 .2\\.11 .2\\.19 .2\\.27 .2\\.35 .2\\.43 .2\\.51 .2\\.59 .2\\.67 .2\\.75 .2\\.83 .2\\.91 .2\\.99 .2\\1.07 .2\\1.15 .2\\1.23 .2\\1.31 .2\\
-.3 .8\\-.2 .8\\-.1 .8\\0 .8\\.1 .8\\.18 .8\\.26 .8\\.34 .8\\.42 .8\\.5 .8\\.58 .8\\.66 .8\\.74 .8\\.82 .8\\.9 .8\\.98 .8\\1.06 .8\\1.14 .8\\1.22 .8\\
.12 1.4\\.2 1.4\\.28 1.4\\.36 1.4\\.44 1.4\\.52 1.4\\.6 1.4\\.68 1.4\\.76 1.4\\.84 1.4\\.92 1.4\\1 1.4\\1.08 1.4\\1.16 1.4\\
.15 2\\.23 2\\.31 2\\.39 2\\.47 2\\.55 2\\.63 2\\.71 2\\.79 2\\.87 2\\.95 2\\1.03 2\\1.1 2\\
.18 2.6\\.26 2.6\\.34 2.6\\.42 2.6\\.5 2.6\\.58 2.6\\.66 2.6\\.74 2.6\\.82 2.6\\.9 2.6\\.98 2.6\\1.05 2.6\\
.22 3.2\\.3 3.2\\.38 3.2\\.46 3.2\\.54 3.2\\.62 3.2\\.7 3.2\\.78 3.2\\.86 3.2\\.94 3.2\\1.02 3.2\\
.26 3.8\\.34 3.8\\.42 3.8\\.5 3.8\\.58 3.8\\.66 3.8\\.74 3.8\\.82 3.8\\.9 3.8\\.98 3.8\\
.3 4.4\\.38 4.4\\.46 4.4\\.54 4.4\\.62 4.4\\.7 4.4\\.78 4.4\\.86 4.4\\.94 4.4\\1.02 4.4\\
.34 5\\.42 5\\.5 5\\.58 5\\.66 5\\.74 5\\.82 5\\.9 5\\.98 5\\
.36 5.7\\.45 5.7\\.53 5.7\\.61 5.7\\.69 5.7\\.77 5.7\\.85 5.7\\.93 5.7\\1.05 5.7\\
.4 6.4\\.5 6.4\\.6 6.4\\.7 6.4\\.8 6.4\\.9 6.4\\1 6.4\\
.42 7.1\\.54 7.1\\.62 7.1\\.7 7.1\\.78 7.1\\.88 7.1\\1.02 7.1\\
.45 7.9\\.58 7.9\\.68 7.9\\.76 7.9\\.86 7.9\\.98 7.9\\1.08 7.9\\
.5 8.7\\.6 8.7\\.7 8.7\\.82 8.7\\.95 8.7\\
.52 9.5\\.66 9.5\\.78 9.5\\.92 9.5\\1.1 9.5\\
.6 10.4\\.72 10.4\\.86 10.4\\1.05 10.4\\
.66 11.3\\.8 11.2\\.94 11.4\\.74 12\\
};
\addplot[gene=cCycle] table[meta=l] {
x y l
1.87 51.4 HN1
1.56 38.2 TUBB
1.1 25.2 CKLF
-1.02 22.3 CBNDE
-.88 18.3 PTMS
.85 19.2 CCT5
.74 18.6 TUBB6
.9 14.6 UBE2C
1.06 11.8 H2AFZ
-.53 11.1 HMGB1
-.37 10 FADS1
-.32 8.6 TMEM97
-.63 8 CD
-.46 6.8 SLC25A5
-.42 5.1 CBX2
.98 10.4 HMMR
1.0 9.9 RAN
.95 8 TUBB3
.85 6.4 UBE2A
.85 5.3 PTTG1
.95 3.3 RPRB
.95 1.2 RPA
.95 .4 CCNB2
};
\end{axis}
\node[font=\fs{9.8},text=cCycle] at (315,1270) {\hx{Cycle}};
\node[font=\fs{9.8}] at (306,1849) {\hx{log$_{\mathrm{2}}$(fold change)}};
\node[rotate=90,font=\fs{8.7}] at (11,1553) {\scalebox{1}[1.25]{-log$_{\mathrm{10}}$(\textit{p}-value)}};
% ---------- volcano 2: Interferon
\begin{axis}[vol, at={(199.85pt,-451.75pt)}, width=173.6pt, xmin=-5.37, xmax=5.12]
\addplot[black,dashed,line width=.3pt] coordinates {(0,-2.73)(0,72.9)};
\addplot[blk] table[x=x,y=y] {\volctab};
\addplot[only marks, mark=*, mark size=.65pt, color=cInterferon, mark options={yscale=1.2,draw=none,fill=cInterferon}] table[row sep=\\] {
x y\\
-.08 .2\\0 .2\\.08 .2\\.16 .2\\.24 .2\\.32 .2\\.4 .2\\.48 .2\\.56 .2\\.64 .2\\.72 .2\\.8 .2\\.88 .2\\.96 .2\\
-.02 .8\\.06 .8\\.14 .8\\.22 .8\\.3 .8\\.38 .8\\.46 .8\\.54 .8\\.62 .8\\.7 .8\\.78 .8\\.86 .8\\.94 .8\\1.02 .8\\
.18 1.5\\.26 1.4\\.34 1.6\\.42 1.5\\.5 1.4\\.58 1.6\\.66 1.5\\.74 1.4\\.82 1.6\\.9 1.5\\.98 1.4\\1.06 1.6\\
.22 2.2\\.32 2.3\\.4 2.1\\.48 2.2\\.56 2.3\\.64 2.1\\.72 2.2\\.8 2.3\\.9 2.1\\1 2.4\\
.26 3\\.34 3.1\\.44 2.9\\.52 3\\.6 3.1\\.7 2.9\\.8 3\\.92 3.2\\
.28 3.8\\.38 3.9\\.5 3.7\\.6 3.8\\.7 3.9\\.82 3.7\\.88 4\\
.32 4.6\\.44 4.7\\.54 4.5\\.66 4.6\\.76 4.7\\.9 4.5\\
.4 5.6\\.5 5.5\\.6 5.7\\.72 5.6\\.82 5.8\\
.42 6.5\\.56 6.6\\.66 6.4\\.78 6.6\\.9 6.8\\
.55 7.4\\.68 7.5\\.8 7.3\\.95 7.6\\1 8\\.62 8.2\\.78 8.1\\
.45 9.2\\.6 9.3\\.75 9\\.5 10.5\\.7 10.6\\.9 10\\.55 11.5\\.75 11.6\\.95 11.2\\.8 13.5\\.9 15\\.8 17\\.9 18.5\\.75 19.2\\
};
\addplot[gene=cInterferon] table[meta=l] {
x y l
2.76 68 HLA-A
-1.93 51.3 LAMP3
2.36 58.5 HBA
2.2 57.1 HCP
2.42 57.1 PDZK1IP1
1.5 43.2 TAP1
1.65 43 TRIM21
1.46 42.2 IFI27
1.49 39.3 MDK
1.29 35.2 RNF213
1.18 34.2 TAPBP
1.35 34.3 PSMB8
1.01 30.6 BST2
1.16 29.3 MIA
1.13 27.8 PSMB9
1.13 26.3 FXYD5
1.96 22.8 TNFSF10
1.06 21.8 RARRES3
.94 21 PARP14
.81 18.6 IFITM3
.88 17.9 ITM2
1.16 16.2 IRF1
.92 15.6 GBP2
-1.11 19.2 HDPB1
-.92 15.3 CD
-.72 15 HDRB1
-.62 11.9 CD74
-.81 9.4 NNMT
-.63 6.9 PATM2
-.67 5.8 HCPA1
.88 12.7 PSME2
.51 12.7 BST1
.9 11.6 TRIM5H1
1.02 10.1 LGALS3BP
.7 9.5 CCL5
1.06 8 CAV1
.81 7 TLR6
.42 5.6 DPB
.67 4.4 TUBB5
.9 1.5 PSMB3
-.45 .2 DN
};
\end{axis}
\node[font=\fs{9.8},text=cInterferon] at (829,1270) {\hx{Interferon}};
\node[font=\fs{9.8}] at (823.5,1849) {\hx{log$_{\mathrm{2}}$(fold change)}};
% ---------- volcano 3: Hypoxia
\begin{axis}[vol, at={(380.28pt,-451.75pt)}, width=174.3pt, xmin=-5.39, xmax=5.15]
\addplot[black,dashed,line width=.3pt] coordinates {(0,-2.73)(0,72.9)};
\addplot[blk] table[x=x,y=y] {\volctab};
\addplot[only marks, mark=*, mark size=.6pt, color=cHypoxia, mark options={yscale=1.2,draw=none,fill=cHypoxia}] table[row sep=\\] {
x y\\
-.34 .2\\-.26 .2\\-.18 .2\\-.1 .2\\-.02 .2\\.06 .2\\.14 .2\\.22 .2\\.3 .2\\.38 .2\\.46 .2\\.54 .2\\.62 .2\\.7 .2\\.78 .2\\.86 .2\\.94 .2\\
-.2 .7\\-.1 .7\\0 .7\\.1 .7\\.2 .7\\.3 .7\\.4 .7\\.5 .7\\.6 .7\\.7 .7\\.3 1.3\\.42 1.4\\.55 1.2\\.36 2.2\\.6 2.4\\.32 3\\.5 3.2\\.7 2.8\\.45 4\\.6 4.6\\
};
\addplot[gene=cHypoxia] table[meta=l] {
x y l
3.14 58 IGFBP3
1.75 53.4 SLC7A3
1.89 52.9 LDHA
1.7 49.6 SNCG
1.07 31 ALDOA
.89 26 PPAP2
1.53 25.5 NDRG1
1.53 24.2 VEGFA
.95 20.8 SLC2A1
1.1 20.8 PGAM1
.79 18.6 AHNAK
1.49 16.3 ANGPTL4
.66 15.3 C19
.8 14.3 FAM162A
.53 8.5 P4HA1
-.6 6.9 BNIP3L
.75 6.6 DDIT4
.25 5.5 SLC16A3
.62 5.3 TGFB3
.43 4.1 PGM1
-.62 3.1 MGP
.25 3.1 SPAG4
.25 1.4 NDRG2
.7 .4 PDK32
};
\end{axis}
\node[font=\fs{9.8},text=cHypoxia] at (1354,1270) {\hx{Hypoxia}};
\node[font=\fs{9.8}] at (1352,1849) {\hx{log$_{\mathrm{2}}$(fold change)}};
% ---------- volcano 4: pEMT
\begin{axis}[vol, at={(560.7pt,-451.75pt)}, width=175.7pt, xmin=-5.38, xmax=5.23]
\addplot[black,dashed,line width=.3pt] coordinates {(0,-2.73)(0,72.9)};
\addplot[blk] table[x=x,y=y] {\volctab};
\addplot[only marks, mark=*, mark size=.55pt, color=cpEMT, mark options={yscale=1.2,draw=none,fill=cpEMT}] table[row sep=\\] {
x y\\
-.1 .1\\-.04 .1\\.02 .1\\.08 .1\\.14 .1\\.2 .1\\.26 .1\\.32 .1\\.38 .1\\.44 .1\\.5 .1\\.56 .1\\.62 .1\\.68 .1\\.74 .1\\.8 .1\\.86 .1\\.92 .1\\.98 .1\\
-.1 .6\\-.04 .6\\.02 .6\\.08 .6\\.14 .6\\.2 .6\\.26 .6\\.32 .6\\.38 .6\\.44 .6\\.5 .6\\.56 .6\\.62 .6\\.68 .6\\.74 .6\\.8 .6\\.86 .6\\.92 .6\\.98 .6\\
-.1 1.1\\-.04 1.1\\.02 1.1\\.08 1.1\\.14 1.1\\.2 1.1\\.26 1.1\\.32 1.1\\.38 1.1\\.44 1.1\\.5 1.1\\.56 1.1\\.62 1.1\\.68 1.1\\.74 1.1\\.8 1.1\\.86 1.1\\.92 1.1\\
-.05 1.6\\.1 1.6\\.25 1.6\\.4 1.6\\.55 1.6\\.7 1.6\\
.5 2.4\\.7 2.6\\.4 3.4\\.55 3.6\\.72 3.3\\.85 3.2\\.45 4.4\\.6 4.7\\.75 4.4\\.5 5.4\\.65 5.6\\.8 5.5\\.95 5.9\\.6 6.4\\.75 6.6\\.9 6.4\\.7 7.4\\.85 7.5\\.72 10\\.85 10.2\\.78 11\\.9 11.3\\.82 12.2\\.95 12.4\\1.05 12\\.85 13.2\\1 13\\.9 14\\1.05 14.2\\.85 15.4\\.95 15.6\\1.05 15.8\\1.15 15.3\\.9 16.3\\1.02 16.4\\1.15 16.5\\1.3 16.3\\.88 17.2\\1.02 17.4\\1.18 17.2\\.85 18.2\\1 18.3\\.8 19.2\\.95 19.4\\.72 20.4\\.9 20.4\\.74 21\\
};
\addplot[gene=cpEMT] table[meta=l] {
x y l
3.5 68.3 GAPDH
3.5 67.8 KRT19
2.76 66 CDKN2A
4.75 65.2 S100A6
3.07 64.6 KRT18
3.06 63.4 KRT8
2.06 59.9 TNFRSF21
2.44 56.8 HMGA1
2.26 54.5 TMSB10
2.32 54.5 TAGLN
1.88 52.2 ACTG1
2.44 51.1 KRT7
1.95 50.5 S100A2
1.95 49.6 S100P
2.37 49.6 LGALS3
2.05 48 S100A10
1.95 45.7 PLAU
1.49 43.7 ACTB
1.92 41.7 S100A16
1.22 41 SERINC2
1.35 37.6 ARG1B
1.53 36.5 S100A13
1.08 34.1 CFL1
1.51 32.5 LAMB3
1.34 29.8 TGFBR
1.44 30 TNFRSF12A
1.2 28.3 PKM
1.08 27.3 CST1
1.13 25.3 CD9
1.15 24.2 CSTB
-.94 24.7 FTL
.6 21.3 TMPRSS23
.99 20 LGALS1
.7 19.9 ACTA2
.85 18.2 NMLRK
1 17.3 TAGLN3
1.51 15.6 KRT17
1.2 14.2 TGFBI
.9 13 LAMC2
.8 11.4 SERPINE
-.77 11.3 SLC22A6
-.74 10.3 SPP1
.72 9 BMP7
.62 7.6 FSTL
.95 7.1 VTCN52
.5 6 S100A4
-1.34 6.4 IGFBP6
-.94 4.9 ADIRSTOM
.77 4.6 S100A11
1.09 3.4 G0S2
-.53 2.6 IGFBP2
.6 1.4 IGFBP1
.9 .4 MS1
};
\end{axis}
\node[font=\fs{9.8},text=cpEMT] at (1855,1270) {\hx{pEMT}};
\node[font=\fs{9.8}] at (1860,1849) {\hx{log$_{\mathrm{2}}$(fold change)}};
\pgfresetboundingbox
\useasboundingbox (0,0) rectangle (2100,1872);
\end{tikzpicture}
\end{document}
